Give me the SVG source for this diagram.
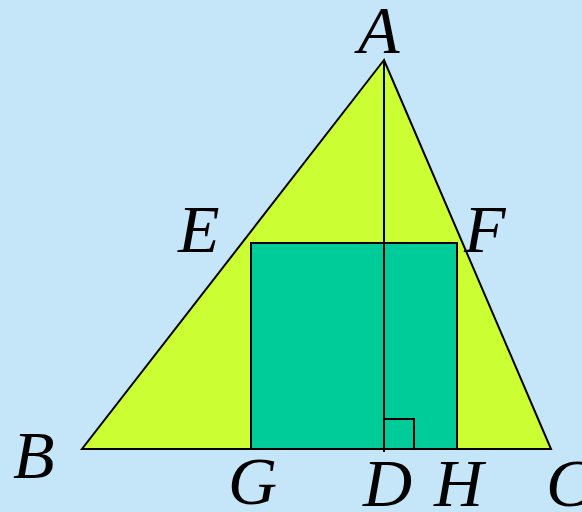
<svg xmlns="http://www.w3.org/2000/svg" width="582" height="512" viewBox="0 0 582 512">
<style>
.lbl{font-family:"Liberation Serif","Times New Roman",serif;font-style:italic;font-size:68px;fill:#000}
.ln{stroke:#000;stroke-width:2;fill:none}
</style>
<rect x="0" y="0" width="582" height="512" fill="#C5E6F8"/>
<g id="triangle"><polygon points="384,60 82,449 551,449" fill="#CCFF33" stroke="#000" stroke-width="2" stroke-linejoin="miter"/></g>
<g id="rect-EFHG"><rect x="251" y="243" width="206" height="206" fill="#00CC99" stroke="#000" stroke-width="2"/></g>
<g id="connectors">
<line class="ln" x1="384" y1="60" x2="384" y2="452"/>
<polyline class="ln" points="384,419 414,419 414,449"/>
<line class="ln" x1="82" y1="449" x2="551" y2="449"/>
</g>
<g id="labels">
<text class="lbl" x="358" y="53">A</text>
<text class="lbl" x="178" y="252">E</text>
<text class="lbl" x="464" y="252">F</text>
<text class="lbl" x="13" y="478">B</text>
<text class="lbl" x="228" y="504">G</text>
<text class="lbl" x="363" y="506">D</text>
<text class="lbl" x="434" y="506">H</text>
<text class="lbl" x="546" y="506">C</text>
</g>
</svg>
